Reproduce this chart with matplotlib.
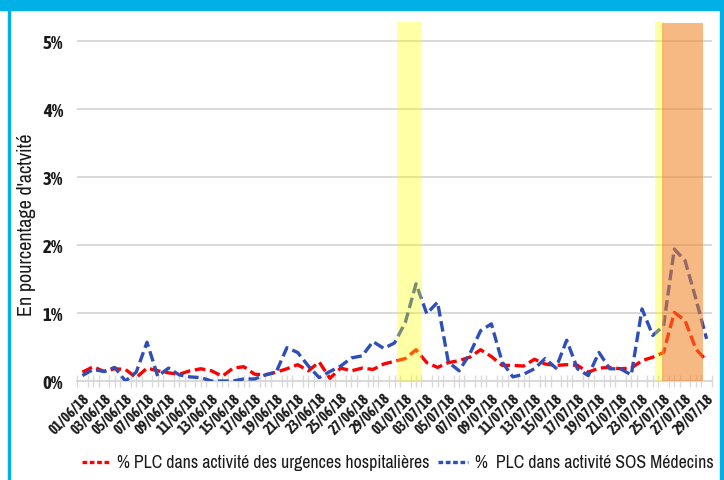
import numpy as np
import pandas as pd
import matplotlib
matplotlib.use("Agg")
import matplotlib.pyplot as plt
from matplotlib.lines import Line2D
from matplotlib.patches import Rectangle

# ---- data ----
dates = pd.date_range("2018-06-01", "2018-07-29", freq="D")
date_labels = [d.strftime("%d/%m/%y") for d in dates]

urgences = [0.13, 0.21, 0.14, 0.18, 0.17, 0.05, 0.19, 0.15, 0.12, 0.10,
            0.15, 0.18, 0.15, 0.07, 0.19, 0.21, 0.10, 0.09, 0.13, 0.18,
            0.24, 0.15, 0.28, 0.04, 0.19, 0.15, 0.19, 0.17, 0.25, 0.29,
            0.33, 0.46, 0.27, 0.20, 0.27, 0.30, 0.35, 0.46, 0.36, 0.23,
            0.23, 0.22, 0.32, 0.25, 0.23, 0.24, 0.23, 0.13, 0.19, 0.20,
            0.18, 0.19, 0.30, 0.35, 0.42, 1.01, 0.89, 0.47, 0.30]
sos = [0.08, 0.17, 0.14, 0.20, 0.00, 0.13, 0.57, 0.07, 0.19, 0.09,
       0.06, 0.05, 0.00, 0.00, 0.00, 0.03, 0.03, 0.09, 0.13, 0.49,
       0.42, 0.22, 0.05, 0.14, 0.22, 0.34, 0.37, 0.58, 0.48, 0.56,
       0.86, 1.43, 0.99, 1.16, 0.28, 0.15, 0.40, 0.74, 0.84, 0.28,
       0.06, 0.10, 0.18, 0.33, 0.19, 0.60, 0.18, 0.08, 0.42, 0.18,
       0.18, 0.09, 1.06, 0.67, 0.81, 1.94, 1.77, 1.21, 0.62]

# alert periods (category index span) and their top
yellow_spans = [(29.25, 31.55), (53.2, 54.0)]
orange_spans = [(53.9, 57.7)]
band_top = 5.28

label_urg = "% PLC dans activité des urgences hospitalières"
label_sos = "%  PLC dans activité SOS Médecins"
ylabel = "En pourcentage d'actvité"

NARROW = ["Archivo Narrow", "DejaVu Sans"]
NARROW_BOLD = ["Asap Condensed", "Archivo Narrow", "DejaVu Sans"]
RED = "#FF0000"
BLUE = "#2F4FB8"
FRAME = "#00B0E6"
GRID = "#D9D9D9"
TXT = "#1A1A1A"

fig = plt.figure(figsize=(7.24, 4.81), dpi=100)
ax = fig.add_axes([0.1064, 0.2058, 0.8770, 0.7562])
ax.set_facecolor("none")

x = np.arange(len(dates))
dash = (3.2, 1.4)
ax.plot(x, urgences, color=RED, lw=2.4, dashes=dash, zorder=3)
ax.plot(x, sos, color=BLUE, lw=2.4, dashes=dash, zorder=3)

# translucent alert bands drawn over the lines
for a, b in yellow_spans:
    ax.fill_between([a, b], 0, band_top, color="#FFFF00", alpha=0.35, lw=0, zorder=4)
for a, b in orange_spans:
    ax.fill_between([a, b], 0, band_top - 0.02, color="#F08020", alpha=0.55, lw=0, zorder=5)

ax.set_xlim(-0.5, len(dates) - 0.5)
ax.set_ylim(0, 5.35)
ax.set_yticks([0, 1, 2, 3, 4, 5])
ax.set_yticklabels([f"{v}%" for v in range(6)], family=NARROW_BOLD, fontsize=13.5,
                   fontweight="bold", color=TXT)
ax.yaxis.grid(True, color=GRID, lw=1.4)
ax.set_axisbelow(True)
ax.tick_params(axis="y", length=0, pad=10)

ax.set_xticks(x[::2])
ax.set_xticklabels(date_labels[::2], rotation=45, ha="right", rotation_mode="anchor",
                   family=NARROW_BOLD, fontsize=10.3, fontweight="bold", color=TXT)
ax.set_xticks(np.arange(-0.5, len(dates), 0.5), minor=True)
ax.tick_params(axis="x", which="major", length=0, pad=7)
ax.tick_params(axis="x", which="minor", length=9, direction="inout", color=GRID, width=1)

for s in ["top", "right", "left"]:
    ax.spines[s].set_visible(False)
ax.spines["bottom"].set_color(GRID)
ax.spines["bottom"].set_linewidth(1.4)

fig.text(27 / 724, 1 - 225 / 481, ylabel, rotation=90, ha="center", va="center",
         family=NARROW, fontsize=14.5, color=TXT)

# legend, laid out by hand to follow the reference spacing
ly = 1 - 463 / 481
fig.add_artist(Line2D([82 / 724, 111 / 724], [ly, ly], color=RED, lw=2.4, dashes=(1.4, 0.8)))
fig.text(117 / 724, ly, label_urg, ha="left", va="center", family=NARROW, fontsize=12.8, color=TXT)
fig.add_artist(Line2D([438 / 724, 468 / 724], [ly, ly], color=BLUE, lw=2.4, dashes=(1.4, 0.8)))
fig.text(475 / 724, ly, label_sos, ha="left", va="center", family=NARROW, fontsize=12.8, color=TXT)

# blue frame of the bulletin
fig.patches.append(Rectangle((0, 1 - 11 / 481), 1, 11 / 481, transform=fig.transFigure,
                             color=FRAME, zorder=10))
fig.patches.append(Rectangle((7.5 / 724, 0), 2.5 / 724, 1, transform=fig.transFigure,
                             color=FRAME, zorder=10))
fig.patches.append(Rectangle((720 / 724, 0), 3 / 724, 1, transform=fig.transFigure,
                             color=FRAME, zorder=10))

fig.savefig("out.png", dpi=100)
